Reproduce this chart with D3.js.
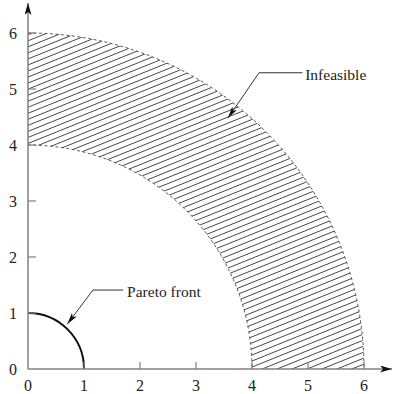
<!doctype html>
<html lang="en">
  <head>
    <meta charset="utf-8">
    <title>Pareto front and infeasible region</title>
    <style>
      body{ margin: 0; background: #fff; }
      svg text{ font-family: "Liberation Serif", "Times New Roman", serif; font-size: 15.5px; fill: #222; }
      svg text.tick{ font-size: 16px; }
    </style>
  </head>
  <body>
    <svg id="chart" width="393" height="394"></svg>
    <script src="https://d3js.org/d3.v7.min.js"></script>
    <script>

      //tick values for both axes
      var xTicks = [0, 1, 2, 3, 4, 5, 6];
      var yTicks = [0, 1, 2, 3, 4, 5, 6];

      //infeasible ring (inner and outer radius) and pareto front radius
      var infeasibleRadii = [4, 6];
      var paretoRadius = [1];

      //callout labels: text position and leader line (start, elbow, tip) in data units
      var labels = ["Infeasible", "Pareto front"];
      var labelPos = [[4.95, 5.16], [1.77, 1.29]];
      var leaderLines = [
        [[4.90, 5.29], [4.125, 5.29], [3.57, 4.48]],
        [[1.70, 1.41], [1.16, 1.41], [0.70, 0.80]]
      ];

      var svg = d3.select("#chart");

      var x = d3.scaleLinear().domain([0, 6]).range([28, 364]);
      var y = d3.scaleLinear().domain([0, 6]).range([369, 33]);
      var unit = x(1) - x(0);

      //arrow markers
      var defs = svg.append("defs");
      defs.append("marker")
        .attr("id", "head")
        .attr("viewBox", "0 0 12 6")
        .attr("refX", 12).attr("refY", 3)
        .attr("markerWidth", 12).attr("markerHeight", 6)
        .attr("markerUnits", "userSpaceOnUse")
        .attr("orient", "auto")
        .append("path").attr("d", "M0,0 L12,3 L0,6 L3,3 Z").attr("fill", "#111");
      defs.append("marker")
        .attr("id", "axishead")
        .attr("viewBox", "0 0 12 7")
        .attr("refX", 12).attr("refY", 3.5)
        .attr("markerWidth", 12).attr("markerHeight", 7)
        .attr("markerUnits", "userSpaceOnUse")
        .attr("orient", "auto")
        .append("path").attr("d", "M0,0 L12,3.5 L0,7 L3,3.5 Z").attr("fill", "#111");

      //clip for the hatched ring
      var ring = d3.arc()
        .innerRadius(infeasibleRadii[0] * unit)
        .outerRadius(infeasibleRadii[1] * unit)
        .startAngle(0)
        .endAngle(Math.PI / 2);

      defs.append("clipPath").attr("id", "ringclip")
        .append("path")
        .attr("transform", "translate(" + x(0) + "," + y(0) + ")")
        .attr("d", ring());

      //hatch lines inside the ring
      var ang = 22 * Math.PI / 180, gap = 5.6;
      var span = x(6) + 40 - x(0);
      var hatchG = svg.append("g").attr("clip-path", "url(#ringclip)");
      var offsets = d3.range(-40, 140).map(function(k){ return k * gap; });
      hatchG.selectAll("line")
        .data(offsets)
        .enter().append("line")
        .attr("x1", x(0) - 20)
        .attr("y1", function(d){ return y(0) - d / Math.cos(ang); })
        .attr("x2", x(0) - 20 + span)
        .attr("y2", function(d){ return y(0) - d / Math.cos(ang) - span * Math.tan(ang); })
        .attr("stroke", "#333")
        .attr("stroke-width", 0.9);

      //dashed ring boundaries
      svg.selectAll(".bound")
        .data(infeasibleRadii)
        .enter().append("path")
        .attr("class", "bound")
        .attr("d", function(r){
          var p = d3.path();
          p.arc(x(0), y(0), r * unit, -Math.PI / 2, 0);
          return p.toString();
        })
        .attr("fill", "none")
        .attr("stroke", "#444")
        .attr("stroke-width", 0.9)
        .attr("stroke-dasharray", "3,2.5");

      //pareto front
      svg.selectAll(".pareto")
        .data(paretoRadius)
        .enter().append("path")
        .attr("class", "pareto")
        .attr("d", function(r){
          var p = d3.path();
          p.arc(x(0), y(0), r * unit, -Math.PI / 2, 0);
          return p.toString();
        })
        .attr("fill", "none")
        .attr("stroke", "#111")
        .attr("stroke-width", 2);

      //axes
      var axisColor = "#808080";
      svg.append("line")
        .attr("x1", x(0)).attr("y1", y(0))
        .attr("x2", 392).attr("y2", y(0))
        .attr("stroke", axisColor).attr("stroke-width", 1.5)
        .attr("marker-end", "url(#axishead)");
      svg.append("line")
        .attr("x1", x(0)).attr("y1", y(0))
        .attr("x2", x(0)).attr("y2", 3)
        .attr("stroke", axisColor).attr("stroke-width", 1.5)
        .attr("marker-end", "url(#axishead)");

      //ticks
      svg.selectAll(".xtick")
        .data(xTicks.slice(1))
        .enter().append("line")
        .attr("x1", function(d){ return x(d); }).attr("x2", function(d){ return x(d); })
        .attr("y1", y(0)).attr("y2", y(0) - 7)
        .attr("stroke", axisColor).attr("stroke-width", 1.2);
      svg.selectAll(".ytick")
        .data(yTicks.slice(1))
        .enter().append("line")
        .attr("x1", x(0)).attr("x2", x(0) + 8)
        .attr("y1", function(d){ return y(d); }).attr("y2", function(d){ return y(d); })
        .attr("stroke", axisColor).attr("stroke-width", 1.2);

      //tick labels
      svg.selectAll(".xlab")
        .data(xTicks)
        .enter().append("text")
        .attr("class", "tick")
        .attr("x", function(d){ return x(d); })
        .attr("y", 391)
        .attr("text-anchor", "middle")
        .text(function(d){ return d; });
      svg.selectAll(".ylab")
        .data(yTicks)
        .enter().append("text")
        .attr("class", "tick")
        .attr("x", 17)
        .attr("y", function(d){ return y(d) + 5.5; })
        .attr("text-anchor", "end")
        .text(function(d){ return d; });

      //callouts
      var line = d3.line().x(function(d){ return x(d[0]); }).y(function(d){ return y(d[1]); });
      svg.selectAll(".leader")
        .data(leaderLines)
        .enter().append("path")
        .attr("d", line)
        .attr("fill", "none")
        .attr("stroke", "#333")
        .attr("stroke-width", 1)
        .attr("marker-end", "url(#head)");
      svg.selectAll(".callout")
        .data(labels)
        .enter().append("text")
        .attr("x", function(d, i){ return x(labelPos[i][0]); })
        .attr("y", function(d, i){ return y(labelPos[i][1]); })
        .text(function(d){ return d; });

    </script>
  </body>
</html>
